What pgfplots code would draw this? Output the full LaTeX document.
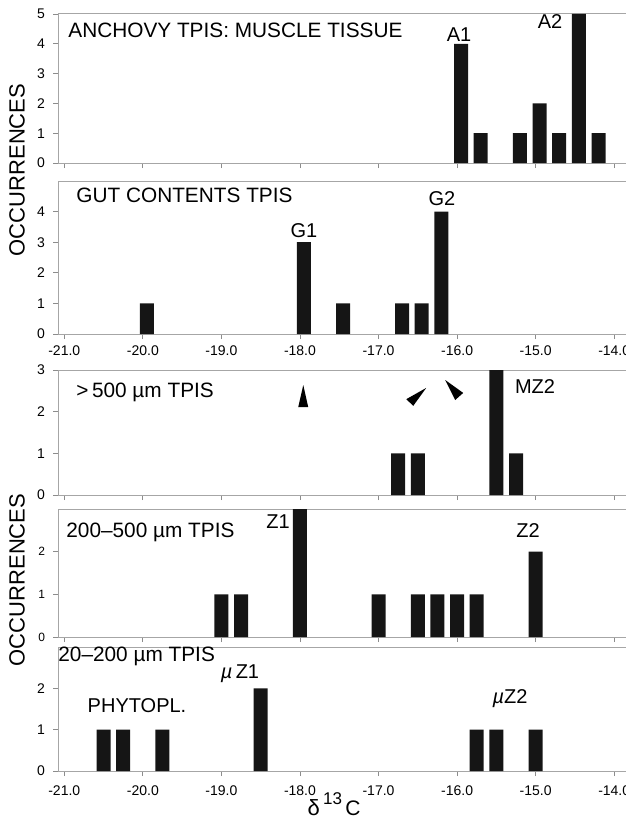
\documentclass[border=0pt]{standalone}
\usepackage{pgfplots}
\pgfplotsset{compat=1.18}
\usepackage{fontspec}
\setmainfont{Liberation Sans}
\definecolor{barc}{HTML}{151515}
\begin{document}
\begin{tikzpicture}
\pgfplotsset{panel/.style={scale only axis, width=284pt, anchor=south west,
  xmin=-21.08, xmax=-13.85, ymin=0,
  axis x line*=box, axis y line*=left,
  axis line style={draw=black!35, line width=0.5pt},
  tick style={draw=black!45, line width=0.4pt},
  major tick length=2.5pt, tick align=outside, tick pos=left,
  xtick={-21,-20,...,-14},
  xticklabels={},
  /pgf/number format/assume math mode=true,
  ticklabel style={font=\fontsize{7}{8}\selectfont},
  yticklabel style={xshift=-0.5pt},
  clip=false},
  fullx/.style={xticklabels={-21.0,-20.0,-19.0,-18.0,-17.0,-16.0,-15.0,-14.0}},
  bars/.style={ybar, bar width=7pt, fill=barc, draw=none}}
% Panel 1
\begin{axis}[panel, at={(29pt,-81.5pt)}, height=74.5pt, ymax=5, ytick={0,1,2,3,4,5}]
\addplot[bars] coordinates {(-15.95,4) (-15.7,1) (-15.2,1) (-14.95,2) (-14.7,1) (-14.45,5) (-14.2,1)};
\end{axis}
% Panel 2
\begin{axis}[panel, fullx, at={(29pt,-167pt)}, height=76.5pt, ymax=5, ytick={0,1,2,3,4},
  xticklabel style={yshift=0pt}]
\addplot[bars] coordinates {(-19.95,1) (-17.95,3) (-17.45,1) (-16.7,1) (-16.45,1) (-16.2,4)};
\end{axis}
% Panel 3
\begin{axis}[panel, at={(29pt,-247.5pt)}, height=62.5pt, ymax=3, ytick={0,1,2,3}]
\addplot[bars] coordinates {(-16.75,1) (-16.5,1) (-15.5,3) (-15.25,1)};
\fill[black] (axis cs:-17.958,2.64) -- (axis cs:-18.022,2.11) -- (axis cs:-17.895,2.11) -- cycle;
\fill[black] (axis cs:-16.393,2.57) -- (axis cs:-16.647,2.30) -- (axis cs:-16.558,2.14) -- cycle;
\fill[black] (axis cs:-16.151,2.76) -- (axis cs:-15.922,2.45) -- (axis cs:-16.024,2.28) -- cycle;
\end{axis}
% Panel 4
\begin{axis}[panel, at={(29pt,-318.5pt)}, height=64pt, ymax=3, ytick={0,1,2},
  ticklabel style={font=\fontsize{6}{7}\selectfont}]
\addplot[bars] coordinates {(-19.0,1) (-18.75,1) (-18.0,3) (-17.0,1) (-16.5,1) (-16.25,1) (-16.0,1) (-15.75,1) (-15.0,2)};
\end{axis}
% Panel 5
\begin{axis}[panel, fullx, at={(29pt,-385.5pt)}, height=62pt, ymax=3, ytick={0,1,2},
  xticklabel style={yshift=-1.5pt}]
\addplot[bars] coordinates {(-20.5,1) (-20.25,1) (-19.75,1) (-18.5,2) (-15.75,1) (-15.5,1) (-15.0,1)};
\end{axis}
\begin{scope}[x=0.5pt,y=-0.5pt]
\tikzset{lab/.style={inner sep=0pt, font=\fontsize{10}{12}\selectfont},
  ttl/.style={inner sep=0pt, font=\fontsize{10.4}{12}\selectfont}}
\node[ttl, anchor=west] at (68,30) {ANCHOVY TPIS: MUSCLE TISSUE};
\node[lab] at (459,35) {A1};
\node[lab] at (550,22) {A2};
\node[ttl, anchor=west] at (76,195) {GUT CONTENTS TPIS};
\node[lab] at (304,231) {G1};
\node[lab] at (442,199) {G2};
\node[ttl, anchor=west] at (76,392) {>\,500 µm TPIS};
\node[lab] at (535,387) {MZ2};
\node[ttl, anchor=west] at (66,532) {200–500 µm TPIS};
\node[lab] at (278,522) {Z1};
\node[lab] at (528,531) {Z2};
\node[ttl, anchor=west] at (58,656) {20–200 µm TPIS};
\node[lab] at (240,674) {\textit{µ}\,Z1};
\node[lab] at (137,706) {PHYTOPL.};
\node[lab] at (510,699) {\textit{µ}Z2};
\node[inner sep=0pt, rotate=90, font=\fontsize{11}{13}\selectfont] at (17,170) {OCCURRENCES};
\node[inner sep=0pt, rotate=90, font=\fontsize{11}{13}\selectfont] at (17,580) {OCCURRENCES};
\node[inner sep=0pt, anchor=base] at (334,815) {{\fontsize{11}{13}\selectfont δ}\,\raisebox{0.55em}{\fontsize{8.5}{9}\selectfont 13}\,{\fontsize{10.5}{12}\selectfont C}};
\pgfresetboundingbox
\path[use as bounding box] (0,0) rectangle (626,819);
\end{scope}
\end{tikzpicture}
\end{document}
